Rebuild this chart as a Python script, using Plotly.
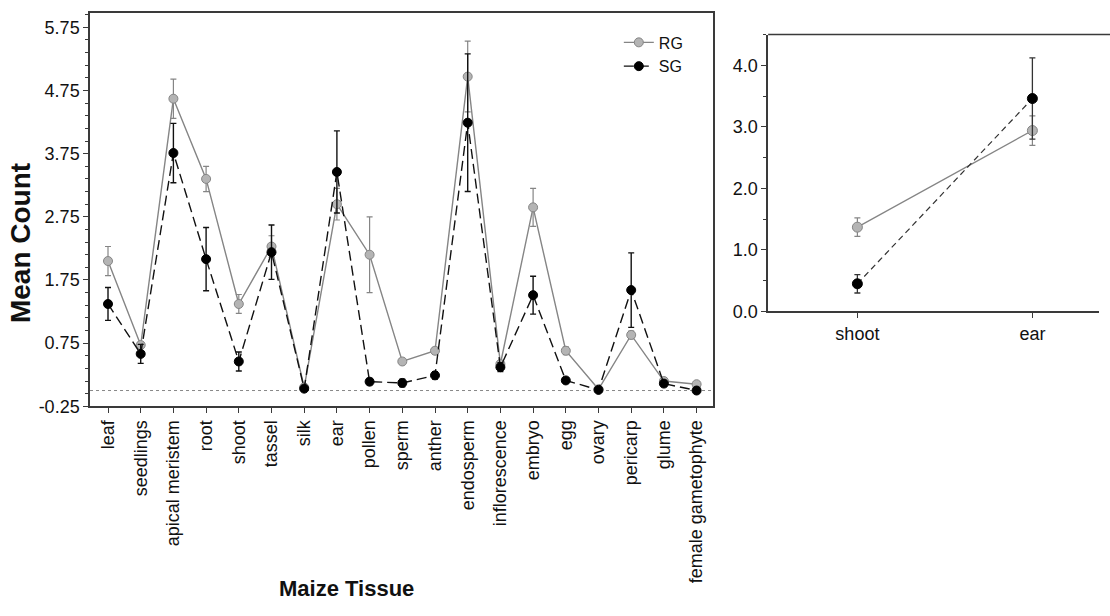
import plotly.graph_objects as go

tissues = ["leaf", "seedlings", "apical meristem", "root", "shoot", "tassel", "silk", "ear",
           "pollen", "sperm", "anther", "endosperm", "inflorescence", "embryo", "egg", "ovary",
           "pericarp", "glume", "female gametophyte"]
rg_mean = [2.05, 0.72, 4.62, 3.35, 1.37, 2.28, 0.05, 2.95, 2.15, 0.46, 0.63, 4.97, 0.42, 2.90, 0.63, 0.02, 0.88, 0.15, 0.10]
rg_err = [0.23, 0.05, 0.31, 0.20, 0.15, 0.17, 0.03, 0.25, 0.60, 0.04, 0.05, 0.56, 0.05, 0.30, 0.06, 0.02, 0.06, 0.03, 0.03]
sg_mean = [1.37, 0.58, 3.76, 2.08, 0.46, 2.19, 0.03, 3.46, 0.14, 0.12, 0.24, 4.24, 0.37, 1.51, 0.16, 0.01, 1.59, 0.11, 0.00]
sg_err = [0.26, 0.15, 0.47, 0.50, 0.15, 0.43, 0.02, 0.65, 0.05, 0.06, 0.06, 1.09, 0.07, 0.30, 0.03, 0.02, 0.59, 0.04, 0.02]

inset_tissues = ["shoot", "ear"]
inset_rg_mean = [1.37, 2.94]
inset_rg_err = [0.15, 0.24]
inset_sg_mean = [0.45, 3.46]
inset_sg_err = [0.15, 0.66]

main_yticks = [-0.25, 0.75, 1.75, 2.75, 3.75, 4.75, 5.75]
inset_yticks = [0, 1, 2, 3, 4]

FONT = "Liberation Sans, Arial, sans-serif"
GRAY_FILL = "#b4b4b4"
GRAY_LINE = "#858585"
AX = "#3a3a3a"

fig = go.Figure()

fig.add_trace(go.Scatter(
    x=tissues, y=rg_mean, name="RG", mode="lines+markers",
    line=dict(color=GRAY_LINE, width=1.4),
    marker=dict(size=9, color=GRAY_FILL, line=dict(color=GRAY_LINE, width=1)),
    error_y=dict(type="data", array=rg_err, color=GRAY_LINE, thickness=1.2, width=3),
    xaxis="x", yaxis="y"))
fig.add_trace(go.Scatter(
    x=tissues, y=sg_mean, name="SG", mode="lines+markers",
    line=dict(color="#111111", width=1.4, dash="10px,5px"),
    marker=dict(size=9, color="#000000", line=dict(color="#000000", width=1)),
    error_y=dict(type="data", array=sg_err, color="#111111", thickness=1.4, width=3),
    xaxis="x", yaxis="y"))

fig.add_trace(go.Scatter(
    x=inset_tissues, y=inset_rg_mean, name="RG", mode="lines+markers", showlegend=False,
    line=dict(color=GRAY_LINE, width=1.3),
    marker=dict(size=10, color=GRAY_FILL, line=dict(color=GRAY_LINE, width=1)),
    error_y=dict(type="data", array=inset_rg_err, color=GRAY_LINE, thickness=1.2, width=3),
    xaxis="x2", yaxis="y2"))
fig.add_trace(go.Scatter(
    x=inset_tissues, y=inset_sg_mean, name="SG", mode="lines+markers", showlegend=False,
    line=dict(color="#333333", width=1.2, dash="6px,4px"),
    marker=dict(size=10, color="#000000", line=dict(color="#000000", width=1)),
    error_y=dict(type="data", array=inset_sg_err, color="#333333", thickness=1.3, width=3),
    xaxis="x2", yaxis="y2"))

fig.add_shape(type="line", xref="x domain", yref="y", x0=0, x1=1, y0=0, y1=0,
              line=dict(color="#888888", width=1, dash="dot"), layer="below")
# top frame line of the inset panel
fig.add_shape(type="line", xref="paper", yref="y2 domain", x0=0.692, x1=1.0, y0=1, y1=1,
              line=dict(color=AX, width=1.5))

axis_common = dict(showline=True, linecolor=AX, linewidth=1.5, ticks="outside",
                   tickcolor=AX, tickwidth=1.2, ticklen=5, showgrid=False, zeroline=False,
                   tickfont=dict(family=FONT, size=18, color="#111111"))

fig.update_layout(
    width=1110, height=616,
    margin=dict(l=0, r=0, t=0, b=0),
    paper_bgcolor="white", plot_bgcolor="white",
    font=dict(family=FONT, color="#111111"),
    xaxis=dict(domain=[0.0811, 0.6423], type="category", range=[-0.55, 18.5],
               mirror=True, tickangle=-90, **axis_common),
    yaxis=dict(domain=[0.3295, 0.9789], range=[-0.25, 5.98], mirror=True,
               tickvals=main_yticks, ticktext=[f"{v:.2f}" for v in main_yticks],
               minor=dict(ticks="outside", dtick=0.2, tick0=-0.25, ticklen=3, tickcolor=AX),
               **axis_common),
    xaxis2=dict(domain=[0.692, 0.99], type="category", range=[-0.51, 1.38], anchor="y2",
                mirror=False, **axis_common),
    yaxis2=dict(domain=[0.486, 0.943], range=[0, 4.5], anchor="x2", mirror=False,
                tickvals=inset_yticks, ticktext=[f"{v:.1f}" for v in inset_yticks],
                minor=dict(ticks="outside", dtick=0.5, ticklen=3, tickcolor=AX),
                **axis_common),
    legend=dict(x=0.5575, y=0.958, xanchor="left", yanchor="top",
                font=dict(family=FONT, size=16, color="#111111"),
                bgcolor="rgba(0,0,0,0)", tracegroupgap=0, itemwidth=30),
    showlegend=True,
    annotations=[
        dict(text="<b>Mean Count</b>", xref="paper", yref="paper", x=0.019, y=1 - 247 / 616,
             textangle=-90, showarrow=False, font=dict(family=FONT, size=28, color="#111111"),
             xanchor="center", yanchor="middle"),
        dict(text="<b>Maize Tissue</b>", xref="paper", yref="paper", x=346 / 1110, y=1 - 598 / 616,
             showarrow=False, font=dict(family=FONT, size=22, color="#111111"),
             xanchor="center", yanchor="middle"),
    ],
)

fig.write_html("out.html")
